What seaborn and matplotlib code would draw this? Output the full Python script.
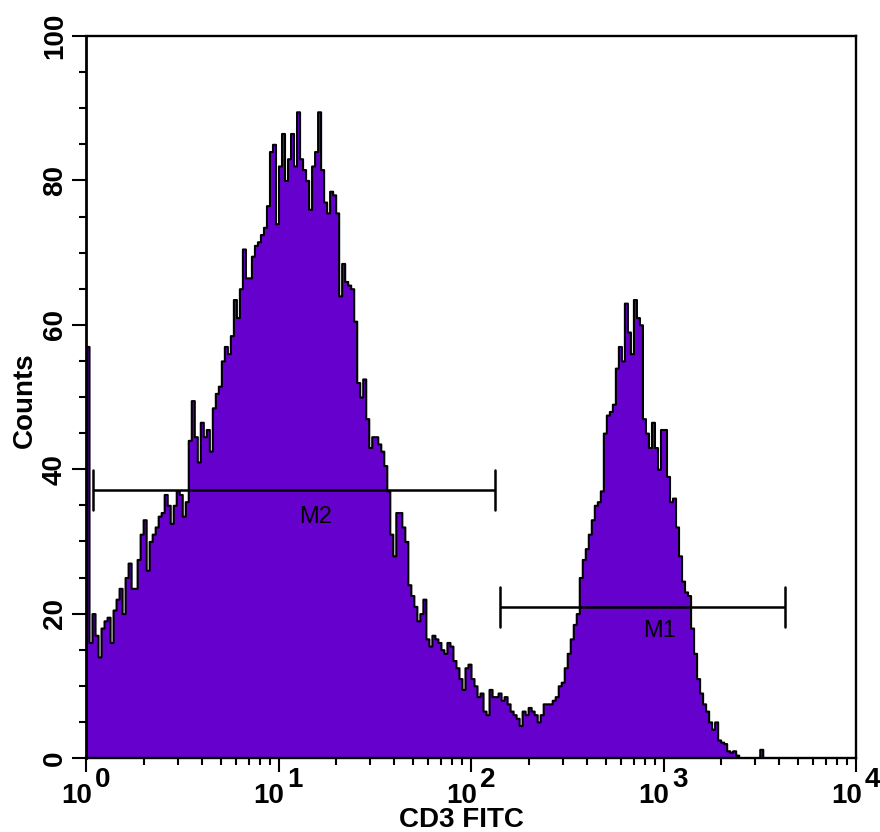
import numpy as np
import pandas as pd
import matplotlib
matplotlib.use("Agg")
import matplotlib.pyplot as plt
import seaborn as sns

# ---------------- data (256 log channels spanning 10^0 .. 10^4) ----------------
counts = [
    57, 16, 20, 17, 14, 18, 19, 19.5, 16, 20.5,
    22, 23.5, 20, 25, 27, 23.5, 23.5, 27.5, 31, 33,
    26, 30, 31, 32, 33.5, 34, 36.5, 35, 32.5, 35,
    37, 36.5, 33.5, 35.5, 44, 49.5, 44.5, 41, 46.5, 44.5,
    45.5, 42.5, 48.5, 50.5, 51.5, 55, 57, 56, 58.5, 63.5,
    61, 65, 70.5, 66.5, 66.5, 69.5, 71, 71.5, 72.5, 73.5,
    76.5, 84, 85, 74, 82, 86.5, 80, 83, 86.5, 82,
    89.5, 83, 81.5, 80, 76, 82, 84, 89.5, 81.5, 77,
    75.5, 78.5, 78, 75.5, 64, 68.5, 66, 65.5, 65, 60.5,
    52, 50, 52.5, 47, 43, 44.5, 44.5, 43.5, 42.5, 40.5,
    37, 31, 28, 34, 34, 32, 30, 24, 22.5, 21,
    19, 20, 22, 16.5, 15.5, 17, 16.5, 16, 15, 14.5,
    16, 15.5, 13.5, 12.5, 11, 9.5, 12.5, 13, 11, 10,
    8.5, 9, 6.5, 6, 9.5, 8.5, 8.5, 9, 8, 8.5,
    7.5, 6.5, 6, 5.5, 4.5, 6.5, 6, 7, 6.5, 6,
    5, 6, 7.5, 7.5, 7.5, 8, 8.5, 10, 10.5, 12.5,
    14.5, 16.5, 18.5, 20, 25, 27.5, 29, 31, 33, 35,
    35.5, 37, 45, 47.5, 48, 49, 54, 57, 55, 63,
    59, 56, 63.5, 61, 60, 47, 45, 43, 46.5, 43,
    40, 45.5, 45.5, 39, 35.5, 36, 32, 28, 24.5, 23,
    22.5, 18, 14.5, 11, 9, 7.5, 6.5, 5, 4, 5,
    2.5, 2.2, 2, 1, 0.8, 1, 0.4, 0, 0, 0,
    0, 0, 0, 0, 1.2, 0, 0, 0, 0, 0,
    0, 0, 0, 0, 0, 0, 0, 0, 0, 0,
    0, 0, 0, 0, 0, 0, 0, 0, 0, 0,
    0, 0, 0, 0, 0, 0,
]
decades = [0, 1, 2, 3, 4]
y_major = [0, 20, 40, 60, 80, 100]
x_label = "CD3 FITC"
y_label = "Counts"

# gate markers: name, start, end (log10 units), level (counts), label position
gate_names = ["M2", "M1"]
gate_start = [0.036, 2.15]
gate_end = [2.125, 3.63]
gate_level = [37.1, 20.9]
gate_label_x = [1.195, 2.977]
gate_label_y = [33.4, 17.6]

n_ch = len(counts)
df = pd.DataFrame({
    "logx": (np.arange(n_ch) + 0.5) * 4.0 / n_ch,
    "count": counts,
})

# ---------------- styling ----------------
sns.set_style("ticks")
plt.rcParams["font.family"] = ["Liberation Sans", "DejaVu Sans"]
for k in ["text.color", "axes.labelcolor", "xtick.color", "ytick.color",
          "axes.edgecolor"]:
    plt.rcParams[k] = "black"

W, H = 880, 832
fig = plt.figure(figsize=(W / 100, H / 100), dpi=100)
L, R, T, B = 86, 856, 36, 758
ax = fig.add_axes([L / W, 1 - B / H, (R - L) / W, (B - T) / H])

sns.histplot(data=df, x="logx", weights="count", bins=n_ch, binrange=(0, 4),
             element="step", fill=True, color="#6600cc", alpha=1,
             edgecolor="black", linewidth=1.5, ax=ax)

ax.set_xlim(0, 4)
ax.set_ylim(0, 100)
ax.set_xlabel("")
ax.set_ylabel("")

for s in ax.spines.values():
    s.set_visible(True)
    s.set_linewidth(1.7)
    s.set_color("black")
ax.spines["left"].set_linewidth(2.0)

# y ticks
ax.set_yticks(y_major)
ax.set_yticks(np.arange(0, 101, 5), minor=True)
ax.set_yticklabels([str(v) for v in y_major], rotation=90, va="center",
                   fontsize=20, fontweight="bold", color="black")
ax.tick_params(axis="y", which="major", direction="out", length=10, width=1.5,
               pad=3, colors="black")
ax.tick_params(axis="y", which="minor", direction="out", length=5, width=1.5,
               colors="black")

# x ticks (log decades drawn on a linear log10 axis)
ax.set_xticks(decades)
minor_x = [d + np.log10(k) for d in decades[:-1] for k in range(2, 10)]
ax.set_xticks(minor_x, minor=True)
ax.set_xticklabels([""] * len(decades))
ax.tick_params(axis="x", which="major", direction="out", length=10, width=1.5,
               colors="black")
ax.tick_params(axis="x", which="minor", direction="out", length=5, width=1.5,
               colors="black")

# decade labels 10^n
for d in decades:
    px = L + d * (R - L) / 4
    fig.text((px + 6) / W, 1 - 803 / H, "10", ha="right", va="baseline",
             fontsize=20, fontweight="bold", color="black")
    fig.text((px + 9) / W, 1 - 787 / H, str(d), ha="left", va="baseline",
             fontsize=20, fontweight="bold", color="black")

fig.text(461 / W, 1 - 827 / H, x_label, ha="center", va="baseline",
         fontsize=20, fontweight="bold", color="black")
fig.text(25 / W, 1 - 400 / H, y_label, ha="center", va="center", rotation=90,
         fontsize=20, fontweight="bold", color="black")

# gate markers
for name, x0, x1, yv, lx, ly in zip(gate_names, gate_start, gate_end, gate_level,
                                    gate_label_x, gate_label_y):
    ax.plot([x0, x1], [yv, yv], color="black", lw=1.8, solid_capstyle="butt")
    ax.plot([x0, x0], [yv - 2.8, yv + 2.8], color="black", lw=1.8)
    ax.plot([x1, x1], [yv - 2.8, yv + 2.8], color="black", lw=1.8)
    ax.text(lx, ly, name, ha="center", va="center", fontsize=17, color="black")

fig.savefig("out.png", dpi=100)
